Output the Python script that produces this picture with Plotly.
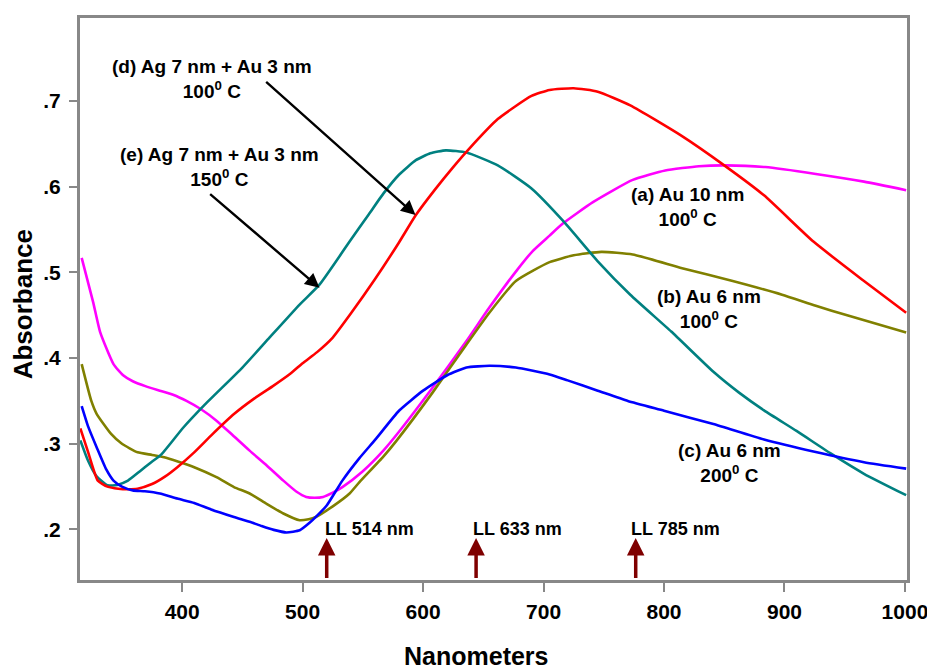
import plotly.graph_objects as go

# ---- data ----
a_nm = [316.6, 326, 332, 343, 351, 359, 370, 381.5, 393, 403.6, 416, 428.5, 442, 456, 470, 484, 495, 503, 510, 517, 525, 533, 550, 567, 580, 608, 636, 655, 677, 691, 705, 716, 741, 774, 801, 829, 851, 884, 926, 966, 1001]
a_abs = [0.517, 0.466, 0.430, 0.393, 0.380, 0.373, 0.367, 0.362, 0.357, 0.350, 0.340, 0.327, 0.310, 0.292, 0.275, 0.257, 0.244, 0.238, 0.237, 0.238, 0.243, 0.2495, 0.268, 0.292, 0.314, 0.3656, 0.420, 0.459, 0.501, 0.525, 0.543, 0.557, 0.582, 0.608, 0.619, 0.624, 0.625, 0.623, 0.615, 0.606, 0.596]

b_nm = [316.6, 324.6, 329, 341, 350, 363, 375, 385, 397, 410, 428.5, 443, 456, 470, 484, 497.5, 505, 511, 525, 539, 547, 567, 578, 608, 636, 655, 677, 705, 725, 748, 774, 815, 857, 898, 926, 952, 1001]
b_abs = [0.393, 0.350, 0.335, 0.3115, 0.300, 0.290, 0.287, 0.2843, 0.279, 0.2727, 0.261, 0.2495, 0.242, 0.230, 0.2186, 0.2108, 0.212, 0.2146, 0.227, 0.242, 0.255, 0.285, 0.3037, 0.360, 0.416, 0.453, 0.490, 0.512, 0.520, 0.524, 0.521, 0.505, 0.490, 0.474, 0.461, 0.450, 0.430]

c_nm = [316.6, 322, 329, 337, 343, 350, 359, 369, 381.5, 396, 410, 424, 443, 456, 466, 476, 486.5, 497.6, 506, 511, 520, 533, 547, 561, 580, 600, 620, 636, 655, 677, 705, 720, 745, 770, 800, 841, 883, 924, 966, 1001]
c_abs = [0.344, 0.320, 0.296, 0.270, 0.257, 0.250, 0.2456, 0.2446, 0.242, 0.236, 0.231, 0.2234, 0.2146, 0.209, 0.204, 0.1995, 0.1965, 0.199, 0.208, 0.2146, 0.228, 0.257, 0.283, 0.306, 0.3386, 0.362, 0.380, 0.389, 0.391, 0.389, 0.381, 0.374, 0.362, 0.350, 0.3386, 0.323, 0.305, 0.291, 0.2785, 0.271]

d_nm = [315.5, 322, 330, 338, 347, 355, 363, 375, 386, 396, 410, 425, 443, 460, 475, 490, 500, 512, 525, 540, 560, 580, 594, 610, 625, 638, 662, 690, 705, 725, 745, 772, 814, 850, 883, 924, 966, 1001]
d_abs = [0.318, 0.290, 0.257, 0.250, 0.2476, 0.247, 0.2476, 0.253, 0.262, 0.2727, 0.290, 0.311, 0.3347, 0.353, 0.367, 0.382, 0.394, 0.407, 0.424, 0.452, 0.492, 0.535, 0.567, 0.597, 0.623, 0.644, 0.679, 0.706, 0.713, 0.715, 0.711, 0.695, 0.660, 0.625, 0.590, 0.536, 0.490, 0.453]

e_nm = [315.5, 322, 329, 338, 346, 355, 365, 373, 383, 401, 419, 450, 470, 497.5, 514, 539, 555, 567, 580, 594, 606, 619, 636, 662, 690, 717, 745, 772, 806, 841, 862, 883, 910, 938, 966, 1001]
e_abs = [0.304, 0.280, 0.262, 0.2515, 0.252, 0.257, 0.268, 0.277, 0.288, 0.319, 0.346, 0.389, 0.420, 0.4625, 0.4857, 0.536, 0.568, 0.592, 0.614, 0.631, 0.639, 0.6425, 0.640, 0.625, 0.598, 0.559, 0.513, 0.474, 0.431, 0.384, 0.360, 0.339, 0.315, 0.289, 0.265, 0.240]

x_ticks = [400, 500, 600, 700, 800, 900, 1000]
y_ticks = [0.2, 0.3, 0.4, 0.5, 0.6, 0.7]
y_tick_labels = [".2", ".3", ".4", ".5", ".6", ".7"]

laser_lines = [520, 644, 776.5]
laser_labels = ["LL 514 nm", "LL 633 nm", "LL 785 nm"]

FONT = "Liberation Sans, Arial, sans-serif"

fig = go.Figure()
series = [
    (a_nm, a_abs, "#FF00FF"),
    (b_nm, b_abs, "#808000"),
    (e_nm, e_abs, "#008080"),
    (d_nm, d_abs, "#FF0000"),
    (c_nm, c_abs, "#0000FF"),
]
for xs, ys, col in series:
    fig.add_trace(go.Scatter(x=xs, y=ys, mode="lines",
                             line=dict(color=col, width=2.6, shape="spline", smoothing=0.5),
                             showlegend=False, hoverinfo="skip"))

lab_font = dict(family=FONT, size=19, color="black", weight="bold")
annotations = []
# curve labels
for txt, x, y in [
    ("(d) Ag 7 nm + Au 3 nm<br>100<sup>0</sup> C", 424.6, 0.7259),
    ("(e) Ag 7 nm + Au 3 nm<br>150<sup>0</sup> C", 431.2, 0.6231),
    ("(a) Au 10 nm<br>100<sup>0</sup> C", 819.1, 0.5767),
    ("(b) Au 6 nm<br>100<sup>0</sup> C", 837.3, 0.4576),
    ("(c) Au 6 nm<br>200<sup>0</sup> C", 854.7, 0.2770),
]:
    annotations.append(dict(text=txt, x=x, y=y, xref="x", yref="y", showarrow=False,
                            font=lab_font, align="center", xanchor="center", yanchor="middle"))
# black arrows
for (tx, ty, hx, hy) in [(468.5, 0.724, 593.7, 0.567), (422.0, 0.593, 514.0, 0.482)]:
    annotations.append(dict(x=hx, y=hy, ax=tx, ay=ty, xref="x", yref="y", axref="x", ayref="y",
                            text="", showarrow=True, arrowhead=2, arrowsize=1.2, arrowwidth=2.4,
                            arrowcolor="black"))
# laser line arrows and labels
for xl, lab, lx in zip(laser_lines, laser_labels, [516.8, 639.8, 771.0]):
    annotations.append(dict(x=xl, y=0.190, ax=xl, ay=0.1415, xref="x", yref="y", axref="x", ayref="y",
                            text="", showarrow=True, arrowhead=2, arrowsize=1.0, arrowwidth=3.5,
                            arrowcolor="#7F0000"))
    annotations.append(dict(text=lab, x=lx, y=0.201, xref="x", yref="y", showarrow=False,
                            font=dict(family=FONT, size=18, color="black", weight="bold"),
                            xanchor="left", yanchor="middle"))
# axis titles
annotations.append(dict(text="Nanometers", x=0.479, y=-0.136, xref="paper", yref="paper",
                        showarrow=False, font=dict(family=FONT, size=25, color="black", weight="bold"),
                        xanchor="center", yanchor="middle"))
annotations.append(dict(text="Absorbance", x=-0.0686, y=0.491, xref="paper", yref="paper",
                        showarrow=False, textangle=-90,
                        font=dict(family=FONT, size=26, color="black", weight="bold"),
                        xanchor="center", yanchor="middle"))

fig.update_layout(
    width=927, height=659,
    margin=dict(l=72, r=24, t=7, b=87),
    paper_bgcolor="white", plot_bgcolor="white",
    annotations=annotations,
    showlegend=False,
)
fig.update_xaxes(range=[315.2, 1001.7], tickvals=x_ticks, ticks="outside", ticklen=9, tickwidth=2,
                 tickcolor="#888888", showline=True, linecolor="#888888", linewidth=3, mirror=True,
                 showgrid=False, zeroline=False,
                 tickfont=dict(family=FONT, size=21, color="black", weight="bold"), ticklabelstandoff=2)
fig.update_yaxes(range=[0.141, 0.797], tickvals=y_ticks, ticktext=y_tick_labels, ticks="outside",
                 ticklen=8, tickwidth=2, tickcolor="#888888", showline=True, linecolor="#888888",
                 linewidth=3, mirror=True, showgrid=False, zeroline=False,
                 tickfont=dict(family=FONT, size=21, color="black", weight="bold"), ticklabelstandoff=4)

fig.write_html("out.html")
